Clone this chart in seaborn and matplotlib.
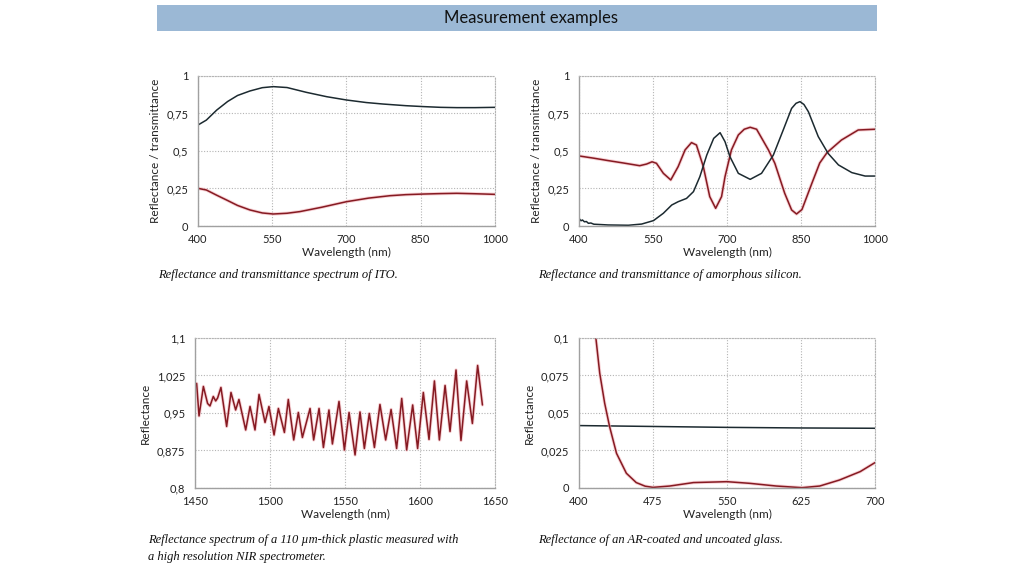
import numpy as np
import pandas as pd
import seaborn as sns
import matplotlib.pyplot as plt
from matplotlib.patches import Rectangle
from matplotlib.ticker import FuncFormatter

# ITO (top left)
ito_nm_t = [400, 417, 438, 460, 480, 505, 530, 552, 580, 619, 660, 700, 740, 774, 820, 855, 890, 923, 960, 1000]
ito_trans = [0.673, 0.706, 0.773, 0.83, 0.87, 0.90, 0.922, 0.929, 0.923, 0.891, 0.862, 0.84, 0.823, 0.813, 0.802, 0.796, 0.791, 0.789, 0.789, 0.791]
ito_nm_r = [400, 417, 438, 458, 480, 505, 530, 552, 580, 606, 650, 700, 745, 788, 820, 855, 890, 923, 960, 1000]
ito_refl = [0.251, 0.24, 0.205, 0.173, 0.137, 0.107, 0.087, 0.08, 0.085, 0.096, 0.125, 0.162, 0.186, 0.202, 0.209, 0.213, 0.216, 0.218, 0.215, 0.211]

# amorphous silicon (top right)
asi_nm_r = [400, 430, 459, 490, 523, 537, 548, 557, 571, 586, 601, 615, 628, 638, 652, 665, 677, 689, 696, 709,
            723, 735, 747, 760, 784, 797, 817, 831, 841, 852, 872, 888, 903, 932, 966, 1000]
asi_refl = [0.467, 0.452, 0.436, 0.42, 0.402, 0.413, 0.428, 0.418, 0.351, 0.307, 0.396, 0.507, 0.556, 0.54, 0.396, 0.196, 0.118, 0.196, 0.329, 0.507,
            0.607, 0.645, 0.658, 0.645, 0.507, 0.418, 0.218, 0.107, 0.08, 0.11, 0.284, 0.42, 0.49, 0.573, 0.64, 0.645]
asi_nm_t = [400, 404, 407, 411, 415, 419, 424, 430, 459, 500, 527, 551, 571, 588, 601, 618, 632, 645, 659, 673, 686,
            696, 706, 723, 747, 770, 794, 814, 831, 840, 848, 856, 865, 885, 905, 926, 953, 980, 1000]
asi_trans = [0.051, 0.035, 0.04, 0.028, 0.03, 0.018, 0.02, 0.012, 0.007, 0.005, 0.013, 0.036, 0.085, 0.14, 0.162, 0.184, 0.229, 0.329, 0.473, 0.584, 0.622,
             0.562, 0.462, 0.351, 0.311, 0.351, 0.473, 0.64, 0.784, 0.818, 0.829, 0.81, 0.762, 0.596, 0.484, 0.407, 0.356, 0.333, 0.333]

# plastic NIR spectrum (bottom left), peaks and troughs
nir_nm = [1450.0, 1451.1, 1452.7, 1455.6, 1458.4, 1460.0, 1462.2, 1463.8, 1465.1, 1467.3, 1471.1, 1474.0, 1477.1, 1479.3,
          1483.8, 1486.7, 1490.0, 1492.7, 1496.7, 1499.3, 1502.7, 1505.6, 1509.6, 1512.2, 1515.8, 1518.9, 1521.6, 1526.7,
          1529.1, 1532.7, 1535.6, 1539.3, 1541.6, 1546.0, 1549.6, 1552.7, 1556.7, 1560.0, 1562.9, 1566.2, 1569.6, 1573.3,
          1577.1, 1580.7, 1584.4, 1587.8, 1591.1, 1595.1, 1598.4, 1602.2, 1606.0, 1609.6, 1612.9, 1616.7, 1620.0, 1624.0,
          1627.3, 1631.1, 1634.9, 1638.4, 1641.6]
nir_refl = [1.006, 1.009, 0.944, 1.003, 0.969, 0.964, 0.983, 0.974, 0.980, 1.001, 0.923, 0.991, 0.956, 0.977,
            0.916, 0.963, 0.916, 0.987, 0.931, 0.963, 0.906, 0.959, 0.911, 0.977, 0.896, 0.951, 0.901, 0.959,
            0.896, 0.959, 0.881, 0.956, 0.888, 0.973, 0.876, 0.951, 0.866, 0.952, 0.879, 0.949, 0.881, 0.967,
            0.896, 0.957, 0.879, 0.979, 0.876, 0.966, 0.879, 0.991, 0.897, 1.014, 0.896, 1.005, 0.913, 1.036,
            0.895, 1.014, 0.929, 1.045, 0.966]

# glass (bottom right)
glass_nm = [400, 475, 550, 625, 700]
glass_uncoated = [0.0416, 0.0410, 0.0404, 0.0400, 0.0398]
ar_nm = [412, 417, 421, 426, 431, 438, 448, 458, 467, 475, 492, 516, 550, 573, 600, 626, 644, 664, 685, 700]
ar_refl = [0.118, 0.1005, 0.0765, 0.0565, 0.0409, 0.0231, 0.0098, 0.0036, 0.0012, 0.0004, 0.0013, 0.0036, 0.0042, 0.0031, 0.0013, 0.0002, 0.0013, 0.0053, 0.0109, 0.0169]

sns.set_theme(style="white")
plt.rcParams['font.family'] = ['Lato', 'DejaVu Sans']

DARK = "#1c2a30"
RED = "#861a22"
HALO = "#f2b4ba"
GRID = "#b4b4b4"

fig = plt.figure(figsize=(10.23, 5.70), dpi=100)

# banner
fig.patches.append(Rectangle((0.1535, 0.9456), 0.7038, 0.0456, transform=fig.transFigure,
                             facecolor="#9bb8d5", edgecolor="none"))
fig.text(0.5186, 0.968, "Measurement examples", ha="center", va="center", fontsize=12, color="#111111")


def comma(v, pos):
    s = f"{v:.3f}".rstrip("0").rstrip(".")
    return s.replace(".", ",")


def style_axes(ax, xlim, xticks, ylim, yticks, ylabel):
    ax.set_xlim(*xlim)
    ax.set_ylim(*ylim)
    ax.set_xticks(xticks)
    ax.set_yticks(yticks)
    ax.yaxis.set_major_formatter(FuncFormatter(comma))
    ax.grid(True, linestyle=(0, (1, 1.5)), color=GRID, linewidth=0.8)
    for side in ["left", "bottom"]:
        ax.spines[side].set_color("#a0a0a0")
        ax.spines[side].set_linewidth(1.0)
    for side in ["top", "right"]:
        ax.spines[side].set_color(GRID)
        ax.spines[side].set_linestyle((0, (1, 1.5)))
        ax.spines[side].set_linewidth(0.8)
    ax.tick_params(axis="x", length=0, labelsize=8, pad=6, colors="#222222")
    ax.tick_params(axis="y", length=0, labelsize=8, pad=7, colors="#222222")
    ax.set_xlabel("Wavelength (nm)", fontsize=8.5, labelpad=1, color="#222222")
    ax.set_ylabel(ylabel, fontsize=8.5, labelpad=4, color="#222222")


def red_line(ax, x, y):
    sns.lineplot(x=x, y=y, ax=ax, color=HALO, linewidth=2.4, alpha=0.6, estimator=None, sort=False,
                 solid_joinstyle="round")
    sns.lineplot(x=x, y=y, ax=ax, color=RED, linewidth=1.1, estimator=None, sort=False,
                 solid_joinstyle="round")


def dark_line(ax, x, y):
    sns.lineplot(x=x, y=y, ax=ax, color=DARK, linewidth=1.1, estimator=None, sort=False,
                 solid_joinstyle="round")


ax1 = fig.add_axes([0.1935, 0.6035, 0.2903, 0.2632])
dark_line(ax1, ito_nm_t, ito_trans)
red_line(ax1, ito_nm_r, ito_refl)
style_axes(ax1, (400, 1000), [400, 550, 700, 850, 1000], (0, 1), [0, 0.25, 0.5, 0.75, 1],
           "Reflectance / transmittance")

ax2 = fig.add_axes([0.566, 0.6035, 0.2893, 0.2632])
red_line(ax2, asi_nm_r, asi_refl)
dark_line(ax2, asi_nm_t, asi_trans)
style_axes(ax2, (400, 1000), [400, 550, 700, 850, 1000], (0, 1), [0, 0.25, 0.5, 0.75, 1],
           "Reflectance / transmittance")

ax3 = fig.add_axes([0.1906, 0.1439, 0.2933, 0.2632])
red_line(ax3, nir_nm, nir_refl)
style_axes(ax3, (1450, 1650), [1450, 1500, 1550, 1600, 1650], (0.8, 1.1), [0.8, 0.875, 0.95, 1.025, 1.1],
           "Reflectance")

ax4 = fig.add_axes([0.566, 0.1439, 0.2893, 0.2632])
dark_line(ax4, glass_nm, glass_uncoated)
red_line(ax4, ar_nm, ar_refl)
style_axes(ax4, (400, 700), [400, 475, 550, 625, 700], (0, 0.1), [0, 0.025, 0.05, 0.075, 0.1],
           "Reflectance")

cap = dict(fontsize=9, style="italic", family=["Liberation Serif", "DejaVu Serif"], color="#111111", va="center")
fig.text(158 / 1023, 1 - 275 / 570, "Reflectance and transmittance spectrum of ITO.", **cap)
fig.text(538 / 1023, 1 - 275 / 570, "Reflectance and transmittance of amorphous silicon.", **cap)
fig.text(148 / 1023, 1 - 540 / 570, "Reflectance spectrum of a 110 \u00b5m-thick plastic measured with", **cap)
fig.text(148 / 1023, 1 - 557 / 570, "a high resolution NIR spectrometer.", **cap)
fig.text(538 / 1023, 1 - 540 / 570, "Reflectance of an AR-coated and uncoated glass.", **cap)

fig.savefig("out.png", dpi=100)
